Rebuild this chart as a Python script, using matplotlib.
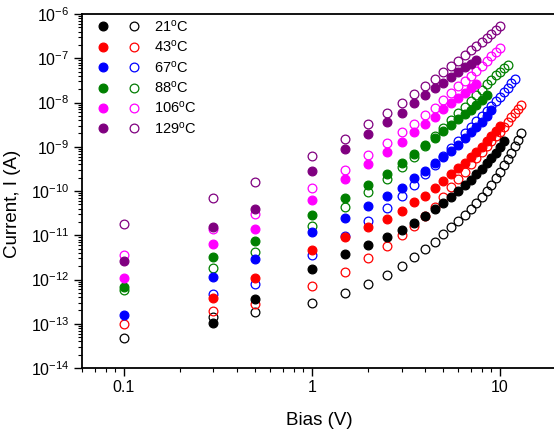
import numpy as np
import matplotlib
matplotlib.use("Agg")
import matplotlib.pyplot as plt
from matplotlib import ticker
from matplotlib.legend_handler import HandlerTuple

plt.rcParams['font.family'] = ['Liberation Sans', 'DejaVu Sans']
plt.rcParams['mathtext.fontset'] = 'custom'
plt.rcParams['mathtext.rm'] = 'Liberation Sans'
plt.rcParams['mathtext.it'] = 'Liberation Sans:italic'
plt.rcParams['mathtext.default'] = 'regular'

# ---------------- data ----------------
bias = [0.1, 0.3, 0.5, 1, 1.5, 2, 2.5, 3, 3.5, 4, 4.5, 5, 5.5, 6, 6.5, 7,
        7.5, 8, 8.5, 9, 9.5, 10, 10.5, 11, 11.5, 12, 12.5, 13]

temps = ["21", "43", "67", "88", "106", "129"]
colors = ["#000000", "#ff0000", "#0000ff", "#008000", "#ff00ff", "#800080"]

nan = np.nan
# filled symbols
i21_filled = [nan, 1.05e-13, 3.55e-13, 1.74e-12, 3.7e-12, 5.9e-12, 9.1e-12, 1.32e-11,
              1.86e-11, 2.75e-11, 3.9e-11, 5.4e-11, 7.4e-11, 1.0e-10, 1.35e-10, 1.78e-10,
              2.4e-10, 3.1e-10, 4.2e-10, 5.5e-10, 7.2e-10, 1.0e-9, 1.38e-9]
i43_filled = [nan, 3.8e-13, 1.07e-12, 4.7e-12, 9.3e-12, 1.51e-11, 2.34e-11, 3.55e-11,
              5.5e-11, 7.9e-11, 1.17e-10, 1.7e-10, 2.4e-10, 3.3e-10, 4.4e-10, 5.9e-10,
              7.8e-10, 1.0e-9, 1.32e-9, 1.74e-9, 2.26e-9, 2.95e-9]
i67_filled = [1.58e-13, 1.12e-12, 2.95e-12, 1.17e-11, 2.45e-11, 4.5e-11, 7.6e-11, 1.17e-10,
              1.95e-10, 2.9e-10, 4.2e-10, 5.9e-10, 8.1e-10, 1.12e-9, 1.55e-9, 2.1e-9,
              2.8e-9, 3.7e-9, 5.0e-9, 6.6e-9]
i88_filled = [6.8e-13, 3.16e-12, 7.4e-12, 2.9e-11, 6.9e-11, 1.38e-10, 2.45e-10, 4.2e-10,
              6.8e-10, 1.07e-9, 1.58e-9, 2.3e-9, 3.16e-9, 4.2e-9, 5.4e-9, 6.9e-9,
              8.7e-9, 1.12e-8, 1.45e-8]
i106_filled = [1.07e-12, 6.2e-12, 1.41e-11, 6.3e-11, 1.9e-10, 3.98e-10, 7.6e-10, 1.29e-9,
               2.14e-9, 3.24e-9, 4.8e-9, 7.1e-9, 9.5e-9, 1.29e-8, 1.62e-8, 2.1e-8, 2.63e-8]
i129_filled = [2.6e-12, 1.55e-11, 3.9e-11, 2.9e-10, 8.9e-10, 1.95e-9, 3.55e-9, 5.9e-9,
               9.5e-9, 1.48e-8, 2.1e-8, 2.8e-8, 3.8e-8, 4.9e-8, 6.2e-8, 7.6e-8, 8.9e-8]

# open symbols
i21_open = [4.8e-14, 1.41e-13, 1.86e-13, 2.88e-13, 5.0e-13, 7.9e-13, 1.26e-12, 2.0e-12,
            3.16e-12, 4.9e-12, 7.1e-12, 1.07e-11, 1.55e-11, 2.14e-11, 2.88e-11, 3.9e-11,
            5.25e-11, 7.2e-11, 1.0e-10, 1.38e-10, 1.95e-10, 2.75e-10, 3.8e-10, 5.4e-10,
            7.4e-10, 1.05e-9, 1.45e-9, 2.0e-9]
i43_open = [9.8e-14, 1.95e-13, 2.8e-13, 7.2e-13, 1.51e-12, 3.0e-12, 5.6e-12, 1.0e-11,
            1.64e-11, 2.75e-11, 4.4e-11, 7.4e-11, 1.2e-10, 1.86e-10, 2.75e-10, 3.98e-10,
            5.6e-10, 7.8e-10, 1.05e-9, 1.38e-9, 1.74e-9, 2.19e-9, 2.8e-9, 3.55e-9,
            4.6e-9, 5.75e-9, 7.2e-9, 8.9e-9]
i67_open = [nan, 4.8e-13, 8.1e-13, 3.55e-12, 9.5e-12, 2.14e-11, 4.2e-11, 7.8e-11,
            1.35e-10, 2.4e-10, 3.9e-10, 6.2e-10, 9.3e-10, 1.38e-9, 2.0e-9, 2.8e-9,
            3.8e-9, 5.0e-9, 6.5e-9, 8.3e-9, 1.07e-8, 1.35e-8, 1.7e-8, 2.14e-8,
            2.7e-8, 3.4e-8]
i88_open = [5.9e-13, 1.82e-12, 4.2e-12, 1.66e-11, 4.4e-11, 9.5e-11, 1.86e-10, 3.5e-10,
            6.0e-10, 1.05e-9, 1.74e-9, 2.7e-9, 3.98e-9, 5.75e-9, 8.1e-9, 1.1e-8,
            1.48e-8, 1.95e-8, 2.57e-8, 3.3e-8, 4.1e-8, 5.0e-8, 5.9e-8, 7.1e-8]
i106_open = [3.55e-12, 1.35e-11, 2.95e-11, 1.15e-10, 2.95e-10, 6.5e-10, 1.23e-9, 2.14e-9,
             3.3e-9, 5.25e-9, 7.6e-9, 1.15e-8, 1.62e-8, 2.3e-8, 3.0e-8, 3.98e-8,
             5.25e-8, 6.8e-8, 8.7e-8, 1.1e-7, 1.41e-7, 1.7e-7]
i129_open = [1.78e-11, 7.1e-11, 1.62e-10, 6.3e-10, 1.5e-9, 3.27e-9, 5.75e-9, 1.0e-8,
             1.55e-8, 2.36e-8, 3.45e-8, 4.8e-8, 6.6e-8, 8.8e-8, 1.16e-7, 1.51e-7,
             1.92e-7, 2.37e-7, 2.92e-7, 3.59e-7, 4.36e-7, 5.4e-7]

filled = [i21_filled, i43_filled, i67_filled, i88_filled, i106_filled, i129_filled]
opened = [i21_open, i43_open, i67_open, i88_open, i106_open, i129_open]

# ---------------- figure ----------------
W, H = 554, 429
fig = plt.figure(figsize=(W / 100, H / 100), dpi=100)
ax = fig.add_axes([82 / W, 61 / H, 474.6 / W, 354 / H])

ms = 6.3
open_handles = []
for vals, c in zip(opened, colors):
    h, = ax.plot(bias[:len(vals)], vals, linestyle='none', marker='o', ms=ms,
                 mfc='none', mec=c, mew=0.9, zorder=2)
    open_handles.append(h)
filled_handles = []
for vals, c in zip(filled, colors):
    h, = ax.plot(bias[:len(vals)], vals, linestyle='none', marker='o', ms=ms,
                 mfc=c, mec=c, mew=0.9, zorder=3)
    filled_handles.append(h)

ax.set_xscale('log')
ax.set_yscale('log')
ax.set_xlim(0.06, 20)
ax.set_ylim(1e-14, 1e-6)

ax.xaxis.set_major_locator(ticker.FixedLocator([0.1, 1, 10]))
ax.xaxis.set_major_formatter(ticker.FuncFormatter(lambda v, p: f"{v:g}"))
ax.xaxis.set_minor_locator(ticker.LogLocator(base=10, subs=np.arange(2, 10), numticks=50))
ax.xaxis.set_minor_formatter(ticker.NullFormatter())
ax.yaxis.set_major_locator(ticker.LogLocator(base=10, numticks=50))
ax.yaxis.set_minor_locator(ticker.LogLocator(base=10, subs=np.arange(2, 10), numticks=50))
ax.yaxis.set_minor_formatter(ticker.NullFormatter())

for s in ax.spines.values():
    s.set_linewidth(1.3)
ax.spines['right'].set_visible(False)
ax.tick_params(which='major', direction='out', length=5.5, width=1.0,
               labelsize=11.5, top=False, right=False)
ax.tick_params(which='minor', direction='out', length=3.0, width=0.8,
               top=False, right=False)

ax.set_xlabel("Bias (V)", fontsize=13.5)
ax.set_ylabel("Current, I (A)", fontsize=13.5)
ax.xaxis.set_label_coords(0.5, -0.125)
ax.yaxis.set_label_coords(-0.128, 0.465)

fs = 10.5
fpx = fs * 100 / 72
labels = [t + r"$^\mathrm{o}$C" for t in temps]
leg = ax.legend(list(zip(filled_handles, open_handles)), labels,
                handler_map={tuple: HandlerTuple(ndivide=None, pad=22 / fpx)},
                loc='upper left', bbox_to_anchor=(16.5 / 474.6, 1 - 4.5 / 354),
                frameon=False, fontsize=fs, borderpad=0, borderaxespad=0,
                handlelength=40 / fpx, handletextpad=15.5 / fpx,
                labelspacing=0.3, numpoints=1)

fig.savefig("out.png", dpi=100)
